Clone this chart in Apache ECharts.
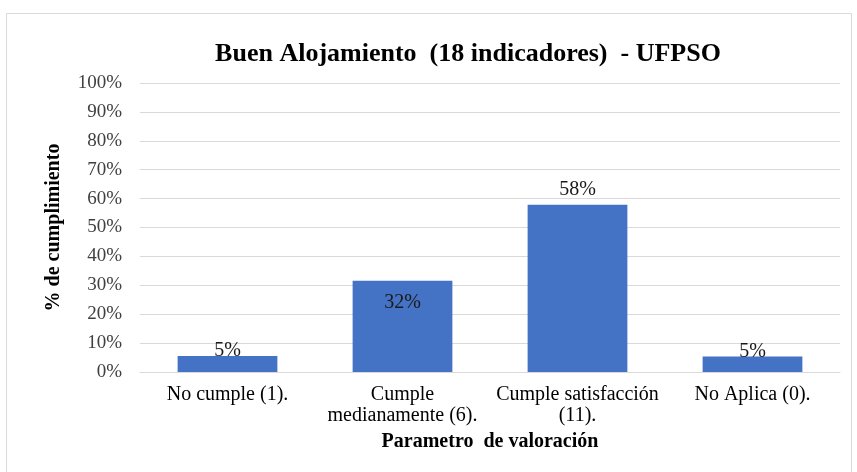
<!DOCTYPE html>
<html>
<head>
<meta charset="utf-8">
<script src="https://cdn.jsdelivr.net/npm/echarts@6/dist/echarts.min.js"></script>
<style>
  html, body { margin: 0; padding: 0; background: #fff; }
  #chart { width: 857px; height: 472px; }
</style>
</head>
<body>
<div id="chart"></div>
<script>
const categories = [
  'No cumple (1).',
  'Cumple\nmedianamente (6).',
  'Cumple satisfacción\n(11).',
  'No Aplica (0).',
]
const values = [5.5, 31.6, 57.9, 5.4]
const valueLabels = ['5%', '32%', '58%', '5%']
// where Excel put each data label, relative to the bar top
const labelOffsets = [[0, 10], [0, 37], [0, 0], [0, 10]]
const yTicks = [0, 10, 20, 30, 40, 50, 60, 70, 80, 90, 100]

const serif = '"Liberation Serif", "DejaVu Serif", serif'
const chart = echarts.init(document.getElementById('chart'))

chart.setOption({
  animation: false,
  textStyle: { fontFamily: serif },
  graphic: [
    {
      type: 'rect',
      shape: { x: 6.5, y: 13.5, width: 845, height: 470 },
      style: { fill: 'none', stroke: '#d9d9d9', lineWidth: 1 },
      silent: true,
    },
  ],
  title: {
    text: 'Buen Alojamiento  (18 indicadores)  - UFPSO',
    left: 463,
    textAlign: 'center',
    top: 36,
    textStyle: { fontFamily: serif, fontSize: 26, fontWeight: 'bold', color: '#000' },
  },
  grid: { left: 140, right: 17, top: 83, bottom: 100 },
  xAxis: {
    type: 'category',
    data: categories,
    name: 'Parametro  de valoración',
    nameLocation: 'middle',
    nameGap: 60,
    nameTextStyle: { fontFamily: serif, fontSize: 20, fontWeight: 'bold', color: '#000' },
    axisLine: { lineStyle: { color: '#d9d9d9' } },
    axisTick: { show: false },
    axisLabel: { color: '#000', fontSize: 20, lineHeight: 21, margin: 12, interval: 0 },
  },
  yAxis: {
    type: 'value',
    min: 0,
    max: 100,
    interval: 10,
    name: '% de cumplimiento',
    nameLocation: 'middle',
    nameGap: 76,
    nameTextStyle: { fontFamily: serif, fontSize: 20, fontWeight: 'bold', color: '#000' },
    axisLabel: {
      color: '#404040',
      fontSize: 19,
      margin: 18,
      formatter: (v) => (yTicks.includes(v) ? v + '%' : ''),
    },
    splitLine: { lineStyle: { color: '#d9d9d9' } },
  },
  series: [
    {
      type: 'bar',
      barWidth: '57%',
      data: values.map((v, i) => ({
        value: v,
        label: { offset: labelOffsets[i] },
      })),
      itemStyle: { color: '#4472c4' },
      label: {
        show: true,
        position: 'top',
        distance: 5,
        color: '#1a1a1a',
        fontSize: 20,
        formatter: (p) => valueLabels[p.dataIndex],
      },
    },
  ],
})
</script>
</body>
</html>
